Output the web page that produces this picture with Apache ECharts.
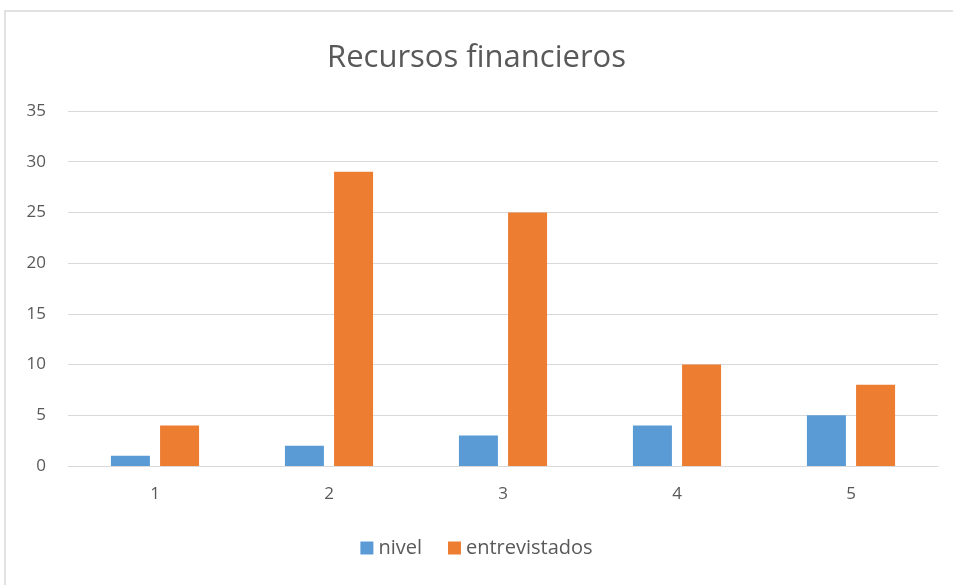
<!DOCTYPE html>
<html>
<head>
<meta charset="utf-8">
<script src="https://cdn.jsdelivr.net/npm/echarts@6/dist/echarts.min.js"></script>
<style>
  html, body { margin: 0; padding: 0; background: #fff; }
  #chart { width: 953px; height: 585px; }
</style>
</head>
<body>
<div id="chart"></div>
<script>
// categorías y valores
const categorias = ['1', '2', '3', '4', '5'];
const nivel = [1, 2, 3, 4, 5];
const entrevistados = [4, 29, 25, 10, 8];

const chart = echarts.init(document.getElementById('chart'));
chart.setOption({
  animation: false,
  textStyle: { fontFamily: 'Open Sans, sans-serif' },
  graphic: [{
    type: 'rect',
    shape: { x: 5, y: 11, width: 1000, height: 700 },
    style: { fill: 'none', stroke: '#d9d9d9', lineWidth: 1.5 }
  }],
  title: {
    text: 'Recursos financieros',
    left: 'center',
    top: 38,
    textStyle: { fontSize: 31, fontWeight: 'normal', color: '#595959' }
  },
  legend: {
    data: ['nivel', 'entrevistados'],
    bottom: 22,
    left: 'center',
    itemWidth: 13,
    itemHeight: 13,
    itemGap: 26,
    icon: 'rect',
    textStyle: { fontSize: 20, color: '#595959' }
  },
  grid: { left: 68, right: 15, top: 111, bottom: 119 },
  xAxis: {
    type: 'category',
    data: categorias,
    axisLine: { lineStyle: { color: '#d9d9d9' } },
    axisTick: { show: false },
    axisLabel: { fontSize: 17, color: '#595959', margin: 20 }
  },
  yAxis: {
    type: 'value',
    min: 0,
    max: 35,
    interval: 5,
    axisLine: { show: false },
    axisTick: { show: false },
    axisLabel: { fontSize: 17, color: '#595959', margin: 22 },
    splitLine: { lineStyle: { color: '#d9d9d9' } }
  },
  series: [
    {
      name: 'nivel',
      type: 'bar',
      data: nivel,
      barWidth: 39,
      barGap: '26%',
      itemStyle: { color: '#5B9BD5' }
    },
    {
      name: 'entrevistados',
      type: 'bar',
      data: entrevistados,
      barWidth: 39,
      itemStyle: { color: '#ED7D31' }
    }
  ]
});
</script>
</body>
</html>
